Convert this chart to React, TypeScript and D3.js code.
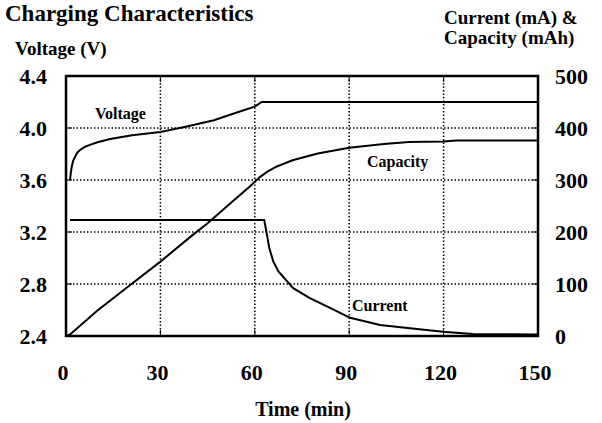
import React from 'react';
import * as d3 from 'd3';

const timeTicks = [0, 30, 60, 90, 120, 150];
const voltTicks = [2.4, 2.8, 3.2, 3.6, 4.0, 4.4];
const capTicks = [0, 100, 200, 300, 400, 500];

const voltTime = [1.3, 1.5, 1.8, 2.3, 2.9, 3.6, 4.4, 6, 7.6, 10, 14, 21, 30, 38, 47, 55, 60, 62.2, 150];
const voltage = [3.6, 3.65, 3.7, 3.75, 3.78, 3.81, 3.83, 3.855, 3.87, 3.89, 3.915, 3.945, 3.97, 4.01, 4.06, 4.125, 4.164, 4.2, 4.2];

const capTime = [0, 1.3, 10, 20, 30, 40, 45, 53, 58.5, 61.7, 64, 67, 72, 80, 90, 101, 109, 120, 124, 150];
const capacity = [0, 3, 49, 96, 143, 193, 217, 259, 288, 306, 316, 326, 338, 351, 362, 369, 373, 374, 376, 376];

const curTime = [1.3, 63.0, 63.8, 64.6, 65.9, 67.5, 72.2, 77.5, 83.9, 90.3, 99.8, 109.3, 119.8, 129.3, 150];
const current = [223, 223, 197, 169, 143, 124, 92, 73, 54, 35, 21, 15, 8, 4, 3];

const W = 602, H = 423;
const left = 66, right = 538, top = 76, bottom = 336;
const font = '"Liberation Serif", "Times New Roman", serif';

export default function App() {
  const x = d3.scaleLinear().domain([0, 150]).range([left, right]);
  const yV = d3.scaleLinear().domain([2.4, 4.4]).range([bottom, top]);
  const yC = d3.scaleLinear().domain([0, 500]).range([bottom, top]);

  const vLine = d3.line<number>().x((_, i) => x(voltTime[i])).y(d => yV(d));
  const cLine = d3.line<number>().x((_, i) => x(capTime[i])).y(d => yC(d));
  const iLine = d3.line<number>().x((_, i) => x(curTime[i])).y(d => yC(d));

  const innerX = timeTicks.slice(1, -1);
  const innerY = voltTicks.slice(1, -1);

  return (
    <svg width={W} height={H} style={{ position: 'absolute', left: 0, top: 0, background: '#fff' }}
      fontFamily={font} fontWeight="bold">
      {/* dotted grid */}
      {innerX.map(t => (
        <line key={'gx' + t} x1={x(t)} x2={x(t)} y1={top} y2={bottom}
          stroke="#000" strokeWidth={1.5} strokeDasharray="1.5,2" />
      ))}
      {innerY.map(v => (
        <line key={'gy' + v} x1={left} x2={right} y1={yV(v)} y2={yV(v)}
          stroke="#000" strokeWidth={1.5} strokeDasharray="1.5,2" />
      ))}
      {/* inward ticks */}
      {innerX.map(t => (
        <g key={'tx' + t} stroke="#000" strokeWidth={1}>
          <line x1={x(t)} x2={x(t)} y1={bottom} y2={bottom - 6} />
          <line x1={x(t)} x2={x(t)} y1={top} y2={top + 6} />
        </g>
      ))}
      {innerY.map(v => (
        <g key={'ty' + v} stroke="#000" strokeWidth={1}>
          <line x1={left} x2={left + 6} y1={yV(v)} y2={yV(v)} />
          <line x1={right} x2={right - 6} y1={yV(v)} y2={yV(v)} />
        </g>
      ))}

      {/* series */}
      <path d={vLine(voltage) || ''} fill="none" stroke="#000" strokeWidth={2} />
      <path d={cLine(capacity) || ''} fill="none" stroke="#000" strokeWidth={2} />
      <path d={iLine(current) || ''} fill="none" stroke="#000" strokeWidth={2} />

      {/* frame */}
      <rect x={left} y={top} width={right - left} height={bottom - top}
        fill="none" stroke="#000" strokeWidth={2.5} />

      {/* tick labels */}
      {voltTicks.map(v => (
        <text key={'lv' + v} x={47} y={yV(v)} dy="0.35em" textAnchor="end" fontSize={22}>
          {v.toFixed(1)}
        </text>
      ))}
      {capTicks.map(c => (
        <text key={'lc' + c} x={555} y={yC(c)} dy="0.35em" textAnchor="start" fontSize={22}>
          {c}
        </text>
      ))}
      {timeTicks.map(t => (
        <text key={'lt' + t} x={x(t) - 3} y={380} textAnchor="middle" fontSize={22}>
          {t}
        </text>
      ))}

      {/* titles */}
      <text x={5} y={21} fontSize={23}>Charging Characteristics</text>
      <text x={15} y={55} fontSize={19}>Voltage (V)</text>
      <text x={444} y={24} fontSize={19}>Current (mA) &amp;</text>
      <text x={444} y={44} fontSize={19}>Capacity (mAh)</text>
      <text x={303} y={416} textAnchor="middle" fontSize={20}>Time (min)</text>

      {/* series labels */}
      <text x={95} y={119} fontSize={16}>Voltage</text>
      <text x={367} y={167} fontSize={16}>Capacity</text>
      <text x={352} y={311} fontSize={16}>Current</text>
    </svg>
  );
}
